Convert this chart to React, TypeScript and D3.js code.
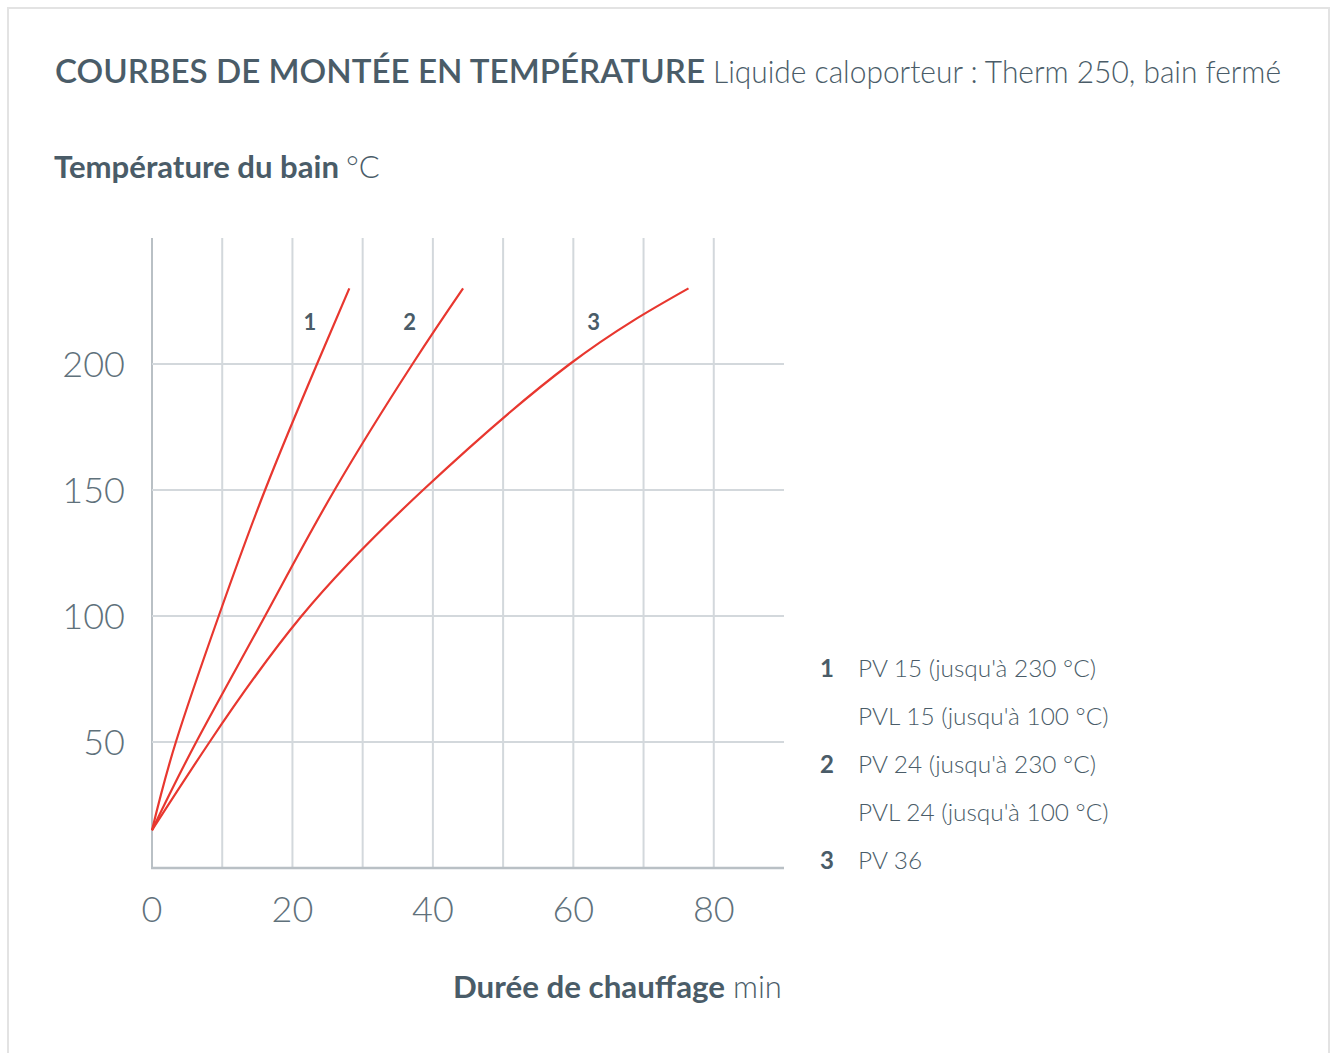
import React from "react";
import * as d3 from "d3";

const xTicks = [0, 20, 40, 60, 80];
const xGrid = [0, 10, 20, 30, 40, 50, 60, 70, 80];
const yTicks = [50, 100, 150, 200];

// [minutes, °C]
const curve1: [number, number][] = [
  [0, 15], [3.4, 50], [9.5, 100], [16.1, 150], [23.5, 200], [28.1, 230],
];
const curve2: [number, number][] = [
  [0, 15], [6.3, 50], [16.1, 100], [26, 150], [37.1, 200], [44.3, 230],
];
const curve3: [number, number][] = [
  [0, 15], [8.2, 50], [21.3, 100], [38.6, 150], [59.5, 200], [76.4, 230],
];
const curveLabels = ["1", "2", "3"];
const curveLabelX = [22.5, 36.7, 62.9];
const curveLabelY = 213.5;

const legendNums = ["1", "", "2", "", "3"];
const legendTexts = [
  "PV 15 (jusqu'à 230 °C)",
  "PVL 15 (jusqu'à 100 °C)",
  "PV 24 (jusqu'à 230 °C)",
  "PVL 24 (jusqu'à 100 °C)",
  "PV 36",
];

const RED = "#e8372f";
const TEXT = "#4a5c68";
const TICK = "#5f717b";
const GRID = "#d3d8dc";
const AXIS = "#b9c0c5";
const FONT = "Lato, 'Open Sans', sans-serif";

export default function App() {
  const W = 1336;
  const H = 1053;
  const x = d3.scaleLinear().domain([0, 90]).range([152, 784]);
  const y = d3.scaleLinear().domain([0, 250]).range([868, 238]);
  const line = d3
    .line<[number, number]>()
    .x((d) => x(d[0]))
    .y((d) => y(d[1]))
    .curve(d3.curveNatural);
  const curves = [curve1, curve2, curve3];

  return (
    <svg
      width={W}
      height={H}
      style={{ position: "absolute", left: 0, top: 0, display: "block", background: "#fff" }}
      fontFamily={FONT}
    >
      <rect x={8} y={8} width={1321} height={1060} fill="#fff" stroke="#e3e3e3" strokeWidth={2} />

      {/* title */}
      <text x={55} y={83} fill={TEXT} fontSize={33}>
        <tspan fontWeight={600} textLength={650} lengthAdjust="spacingAndGlyphs">
          COURBES DE MONTÉE EN TEMPÉRATURE
        </tspan>
      </text>
      <text x={713} y={83} fill={TEXT} fontSize={32} fontWeight={300} textLength={568} lengthAdjust="spacingAndGlyphs">
        Liquide caloporteur : Therm 250, bain fermé
      </text>

      {/* y axis title */}
      <text x={54} y={178} fill={TEXT} fontSize={31} fontWeight={700} textLength={285} lengthAdjust="spacingAndGlyphs">
        Température du bain
      </text>
      <text x={346} y={178} fill={TEXT} fontSize={31} fontWeight={300}>
        °C
      </text>

      {/* grid */}
      {xGrid.map((v) => (
        <line key={"xg" + v} x1={x(v)} x2={x(v)} y1={238} y2={y(0)} stroke={v === 0 ? AXIS : GRID} strokeWidth={2} />
      ))}
      {yTicks.map((v) => (
        <line key={"yg" + v} x1={x(0)} x2={x(90)} y1={y(v)} y2={y(v)} stroke={GRID} strokeWidth={2} />
      ))}
      <line x1={x(0) - 1} x2={x(90)} y1={y(0)} y2={y(0)} stroke={AXIS} strokeWidth={2.5} />

      {/* ticks */}
      {yTicks.map((v) => (
        <text key={"yt" + v} x={125} y={y(v) + 12.5} textAnchor="end" fill={TICK} fontSize={36} fontWeight={300}>
          {v}
        </text>
      ))}
      {xTicks.map((v) => (
        <text key={"xt" + v} x={x(v)} y={922} textAnchor="middle" fill={TICK} fontSize={36} fontWeight={300}>
          {v}
        </text>
      ))}

      {/* curves */}
      {curves.map((c, i) => (
        <path key={"c" + i} d={line(c) || ""} fill="none" stroke={RED} strokeWidth={2.2} />
      ))}
      {curveLabels.map((l, i) => (
        <text key={"cl" + i} x={x(curveLabelX[i])} y={y(curveLabelY)} textAnchor="middle" fill={TEXT} fontSize={22} fontWeight={700}>
          {l}
        </text>
      ))}

      {/* x axis title */}
      <text x={453} y={998} fill={TEXT} fontSize={31} fontWeight={700} textLength={272} lengthAdjust="spacingAndGlyphs">
        Durée de chauffage
      </text>
      <text x={733} y={998} fill={TEXT} fontSize={31} fontWeight={300}>
        min
      </text>

      {/* legend */}
      {legendTexts.map((t, i) => (
        <g key={"lg" + i}>
          <text x={827} y={677 + i * 48} textAnchor="middle" fill={TEXT} fontSize={24} fontWeight={700}>
            {legendNums[i]}
          </text>
          <text x={858} y={677 + i * 48} fill={TEXT} fontSize={24.4} fontWeight={300}>
            {t}
          </text>
        </g>
      ))}
    </svg>
  );
}
